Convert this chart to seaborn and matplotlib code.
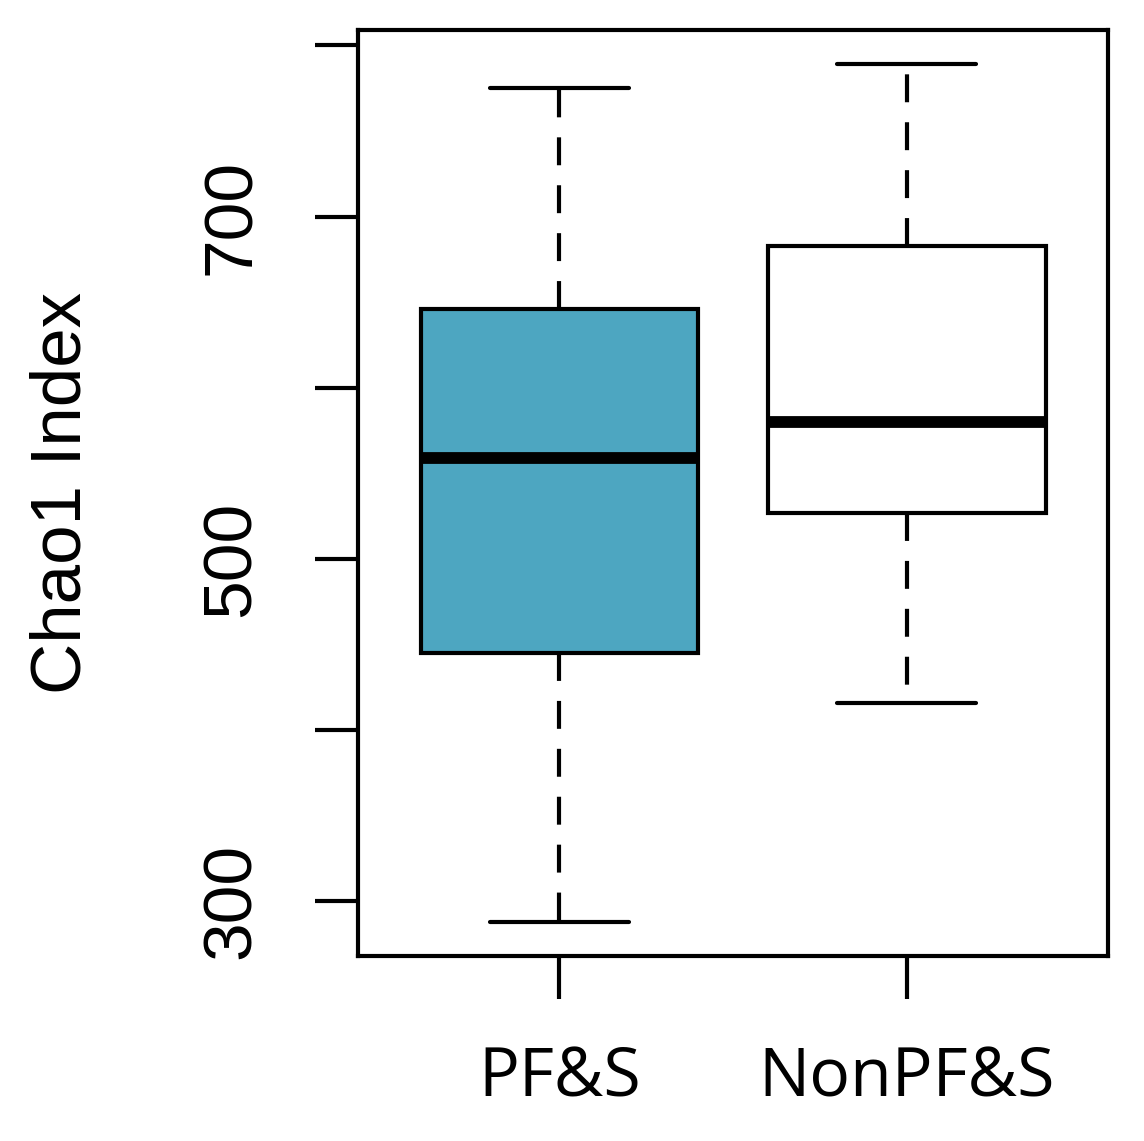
import matplotlib
matplotlib.use("Agg")
import matplotlib.pyplot as plt
import seaborn as sns
import pandas as pd

# ---- data (five-number summaries) ----
groups = ["PF&S", "NonPF&S"]
pfs_values = [288, 445, 559, 646, 775]
nonpfs_values = [416, 527, 580, 683, 789]
box_colors = ["#4DA6C1", "#FFFFFF"]
yticks = [300, 400, 500, 600, 700, 800]
ytick_labels = ["300", "", "500", "", "700", ""]
ylabel = "Chao1 Index"

sns.set_theme(style="white")
plt.rcParams["font.family"] = ["Liberation Sans", "DejaVu Sans"]
plt.rcParams["text.color"] = "black"
plt.rcParams["axes.labelcolor"] = "black"

arial = ["Liberation Sans", "DejaVu Sans"]
segoe = ["Open Sans", "DejaVu Sans"]

df = pd.DataFrame({
    "group": [groups[0]] * len(pfs_values) + [groups[1]] * len(nonpfs_values),
    "value": pfs_values + nonpfs_values,
})

fig = plt.figure(figsize=(11.44, 11.41), dpi=100)
ax = fig.add_axes([358 / 1144, 1 - 956 / 1141, 750 / 1144, 926 / 1141])

lw = 3.0
sns.boxplot(
    data=df, x="group", y="value", hue="group", order=groups, hue_order=groups,
    palette=box_colors, saturation=1, legend=False, width=0.8, whis=(0, 100),
    linecolor="black", linewidth=lw, ax=ax,
    whiskerprops=dict(linestyle=(0, (6.7, 4.8)), linewidth=lw, color="black"),
    capprops=dict(linewidth=lw, color="black"),
    medianprops=dict(linewidth=8.5, color="black", solid_capstyle="butt"),
    boxprops=dict(linewidth=lw, edgecolor="black"),
    capwidths=0.4,
)

ax.set_xlim(-0.58, 1.58)
ax.set_ylim(268, 809)
ax.set_yticks(yticks)
ax.set_yticklabels(ytick_labels, rotation=90, va="center", fontsize=50,
                   family=arial, color="black")
ax.set_xticks(range(len(groups)))
ax.set_xticklabels(groups, fontsize=49, family=segoe, color="black")
ax.set_xlabel("")
ax.set_ylabel(ylabel, fontsize=51, family=arial, color="black")
ax.yaxis.set_label_coords(-0.35, 0.5)

for sp in ax.spines.values():
    sp.set_visible(True)
    sp.set_color("black")
    sp.set_linewidth(lw)

ax.tick_params(axis="both", which="both", direction="out", length=31, width=lw,
               color="black", labelcolor="black", left=True, bottom=True)
ax.tick_params(axis="y", pad=37)
ax.tick_params(axis="x", pad=33)
ax.grid(False)

fig.savefig("out.png", dpi=100, facecolor="white")
